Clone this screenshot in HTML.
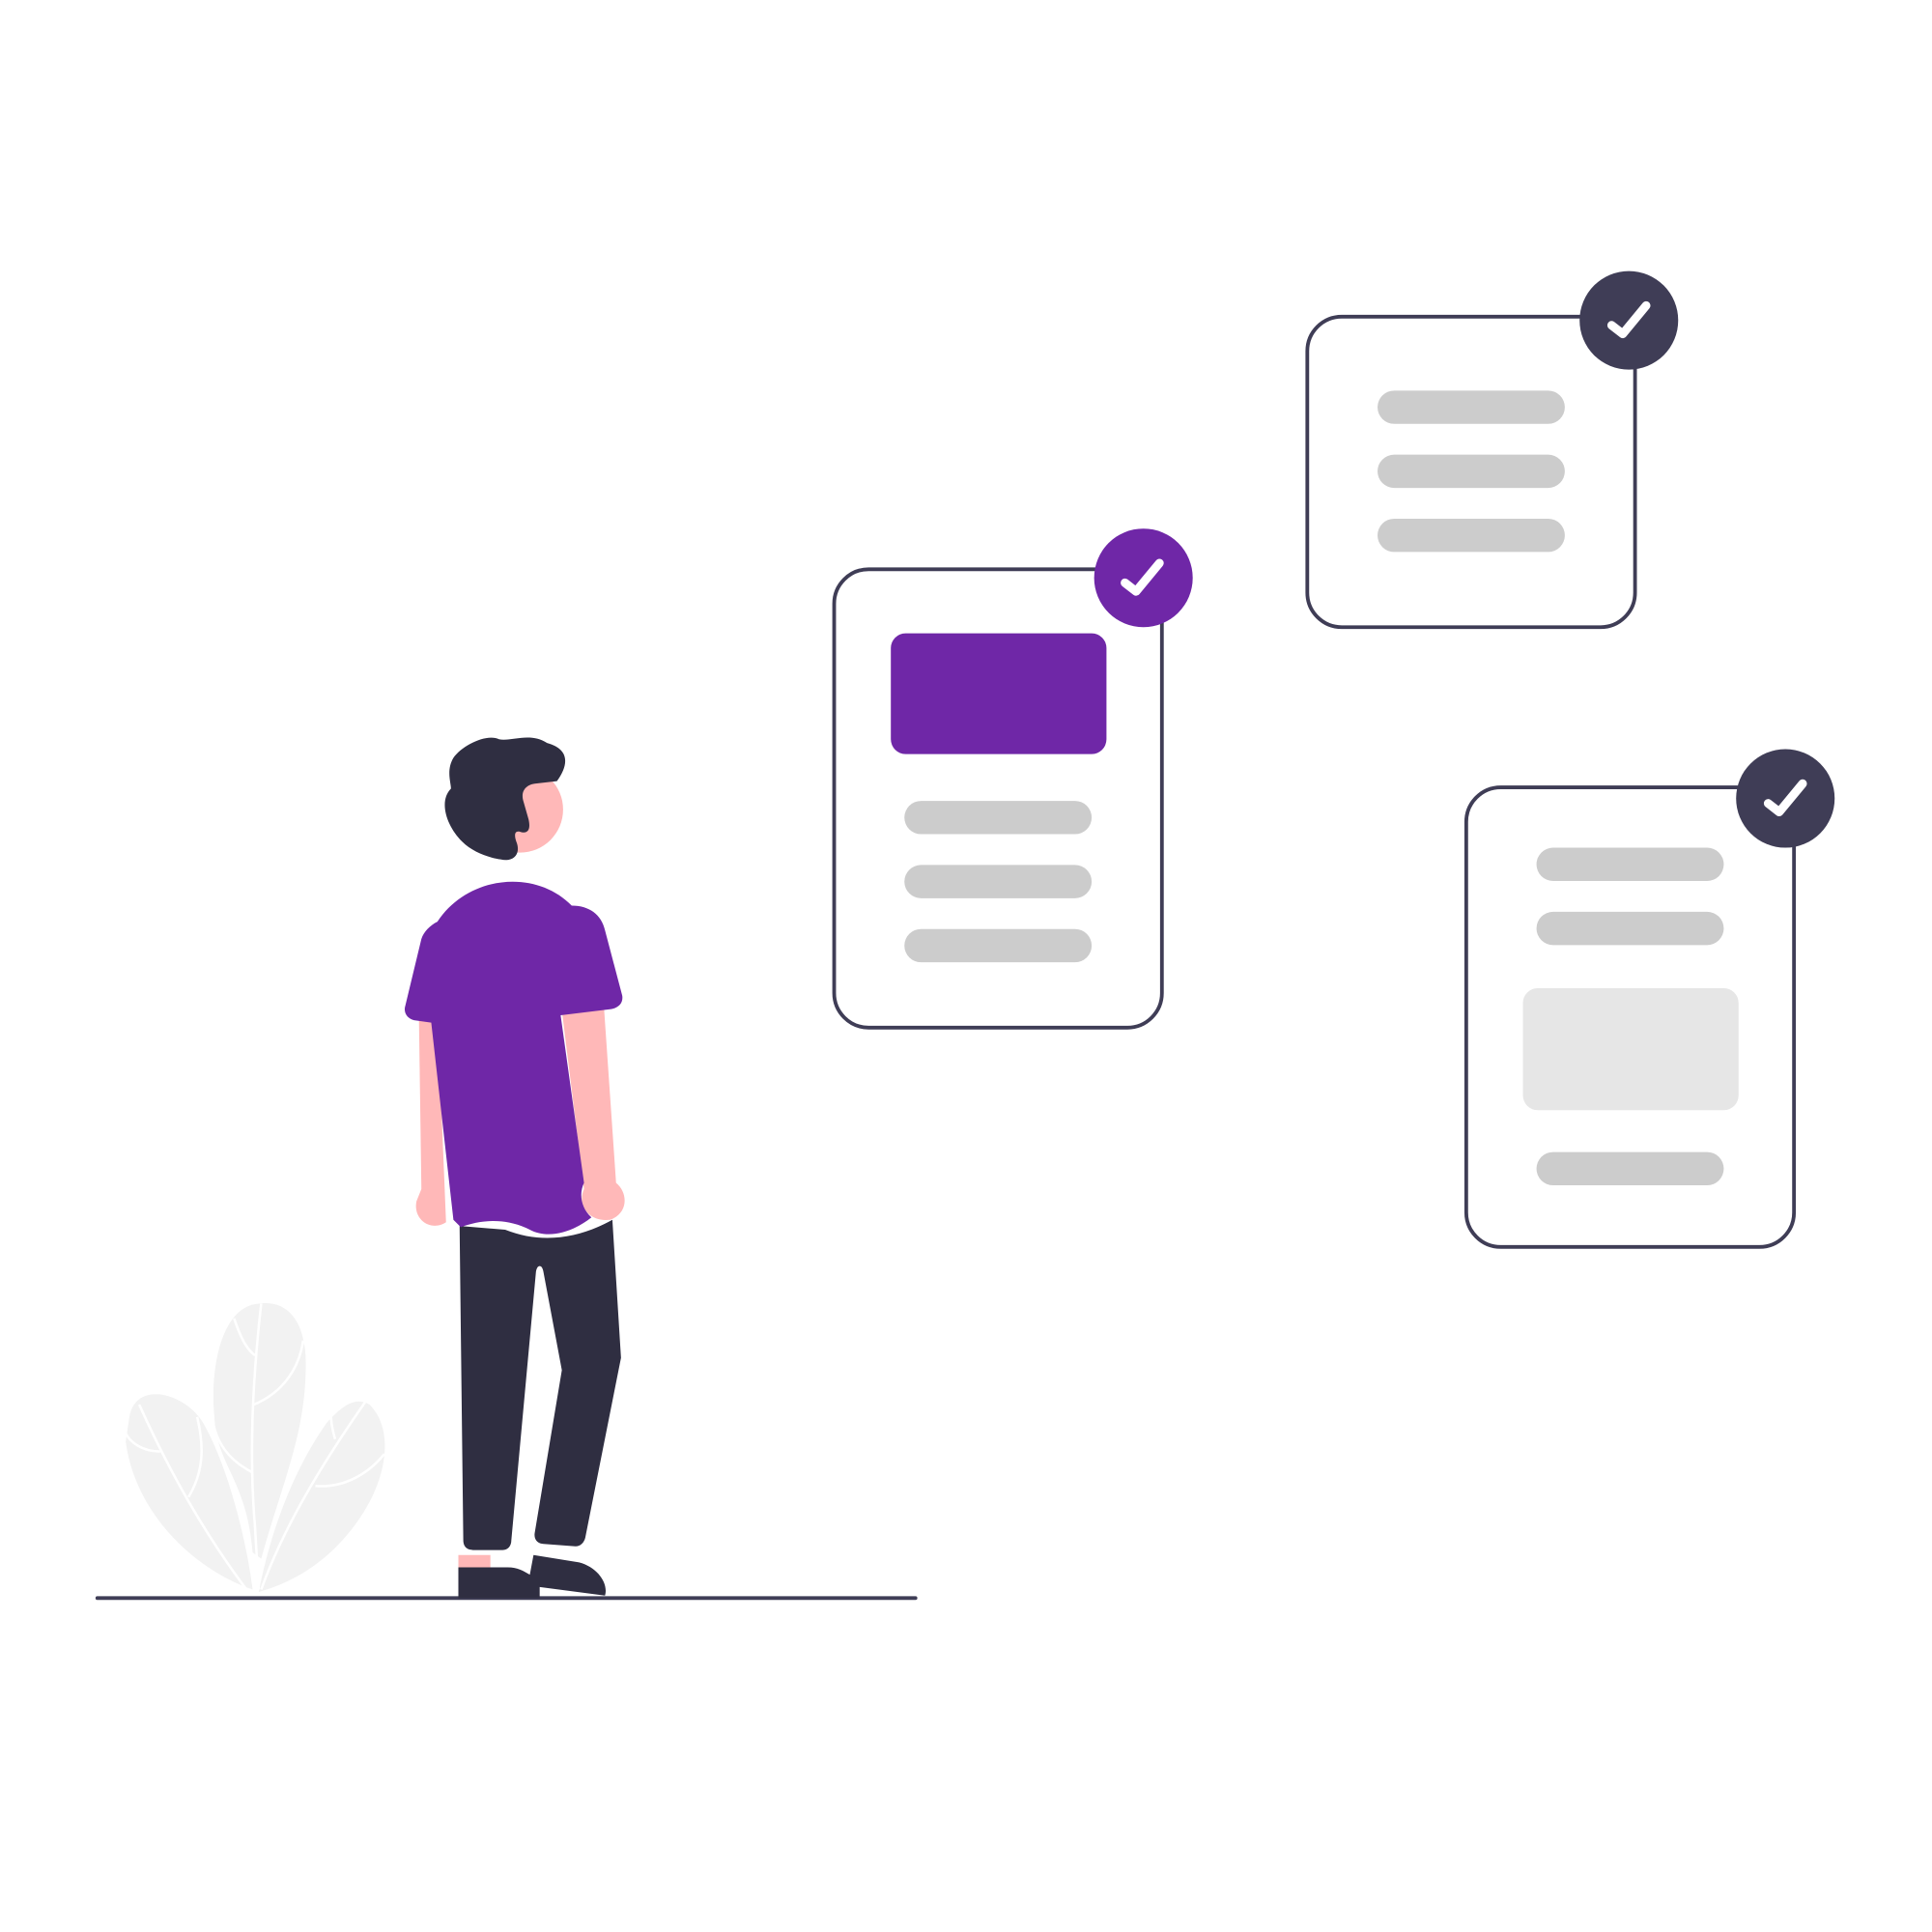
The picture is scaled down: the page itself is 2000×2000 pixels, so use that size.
<!DOCTYPE html>
<html><head><style>html,body{margin:0;padding:0;background:#fff}svg{display:block}</style></head><body>
<svg width="2000" height="2000" viewBox="0 0 1568 1568" xmlns="http://www.w3.org/2000/svg">
<!-- plant -->
<g fill="#f2f2f2">
<path d="M210 1058 C180 1060 170 1110 174 1150 C176 1190 200 1200 205 1260 L212 1265 C230 1200 250 1160 248 1100 C246 1070 232 1055 210 1058Z"/>
<path d="M105 1150 C110 1120 150 1130 165 1155 C185 1190 200 1250 205 1290 C160 1275 110 1230 102 1170Z"/>
<path d="M300 1140 C320 1160 315 1200 290 1235 C265 1270 235 1285 210 1292 C220 1240 240 1190 265 1155 C280 1138 290 1134 300 1140Z"/>
</g>
<g stroke="#fff" stroke-width="2" fill="none">
<path d="M212 1058 C205 1120 202 1180 207 1240 L210 1290"/>
<path d="M113 1140 C140 1200 170 1250 200 1290"/>
<path d="M297 1137 C260 1190 230 1240 212 1290"/>
<path d="M206 1140 C230 1130 243 1110 246 1088"/><path d="M190 1070 C195 1085 200 1095 207 1100"/>
<path d="M130 1178 C115 1178 105 1170 102 1163"/><path d="M153 1215 C165 1195 166 1175 160 1150"/>
<path d="M256 1206 C280 1208 300 1195 312 1180"/><path d="M272 1168 C268 1155 268 1145 270 1138"/>
<path d="M205 1195 C185 1185 175 1170 172 1150"/>
</g>
<!-- ground -->
<line x1="79" y1="1297" x2="743" y2="1297" stroke="#3f3d56" stroke-width="3" stroke-linecap="round"/>
<!-- person -->
<path d="M340 825 L342 965 L338 975 C335 990 350 1000 362 992 L355 820Z" fill="#ffb8b8"/>
<path d="M490 815 L500 960 C510 968 510 985 495 990 C478 992 468 978 474 965 L456 820Z" fill="#ffb8b8"/>
<path d="M373 995 L376 1250 C376 1256 380 1258 384 1258 L408 1258 C412 1258 415 1255 415 1250 L435 1032 C436 1026 440 1026 441 1032 L456 1112 L434 1244 C433 1250 437 1253 441 1253 L467 1255 C471 1255 474 1252 475 1248 L504 1102 L497 990 C470 1005 440 1010 410 998Z" fill="#2f2e41"/>
<path d="M372 1272 L412 1272 C420 1272 425 1275 430 1278 L433 1262 L470 1268 C485 1272 494 1285 491 1295 L438 1288 L438 1297 L372 1297Z" fill="#2f2e41"/>
<path d="M372 1262 L372 1272 L398 1272 L398 1262Z" fill="#ffb8b8"/>
<path d="M355 748 C380 710 435 705 464 735 C478 735 488 742 491 755 L505 808 C506 814 502 818 496 819 L455 824 L474 960 C470 968 471 980 480 988 C465 1000 445 1006 430 998 C410 988 390 990 374 996 L368 990 L350 830 L336 828 C331 827 327 822 329 816 L342 762 C344 756 349 751 355 748Z" fill="#6f27a7"/>
<circle cx="422" cy="657" r="35" fill="#ffb8b8"/>
<path d="M452 634 C462 620 462 608 444 603 C430 594 415 602 405 600 C395 595 375 605 368 615 C362 625 366 635 366 640 C356 650 362 670 375 683 C385 693 400 697 410 698 C420 698 422 690 419 683 C417 677 418 674 422 675 C428 677 431 674 429 665 L425 651 C422 642 427 637 434 636Z" fill="#2f2e41"/>
<!-- card 1 -->
<rect x="677" y="462" width="266" height="372" rx="28" fill="#fff" stroke="#3f3d56" stroke-width="3"/>
<rect x="723" y="514" width="175" height="98" rx="12" fill="#6f27a7"/>
<rect x="734" y="650" width="152" height="27" rx="13.5" fill="#ccc"/>
<rect x="734" y="702" width="152" height="27" rx="13.5" fill="#ccc"/>
<rect x="734" y="754" width="152" height="27" rx="13.5" fill="#ccc"/>
<circle cx="928" cy="469" r="40" fill="#6f27a7"/>
<path d="M913 473 L922 480 L941 457" stroke="#fff" stroke-width="7" fill="none" stroke-linecap="round" stroke-linejoin="round"/>
<!-- card 2 -->
<rect x="1061" y="257" width="266" height="252" rx="28" fill="#fff" stroke="#3f3d56" stroke-width="3"/>
<rect x="1118" y="317" width="152" height="27" rx="13.5" fill="#ccc"/>
<rect x="1118" y="369" width="152" height="27" rx="13.5" fill="#ccc"/>
<rect x="1118" y="421" width="152" height="27" rx="13.5" fill="#ccc"/>
<circle cx="1322" cy="260" r="40" fill="#3f3d56"/>
<path d="M1308 264 L1317 271 L1336 248" stroke="#fff" stroke-width="7" fill="none" stroke-linecap="round" stroke-linejoin="round"/>
<!-- card 3 -->
<rect x="1190" y="639" width="266" height="373" rx="28" fill="#fff" stroke="#3f3d56" stroke-width="3"/>
<rect x="1247" y="688" width="152" height="27" rx="13.5" fill="#ccc"/>
<rect x="1247" y="740" width="152" height="27" rx="13.5" fill="#ccc"/>
<rect x="1236" y="802" width="175" height="99" rx="12" fill="#e6e6e6"/>
<rect x="1247" y="935" width="152" height="27" rx="13.5" fill="#ccc"/>
<circle cx="1449" cy="648" r="40" fill="#3f3d56"/>
<path d="M1435 652 L1444 659 L1463 636" stroke="#fff" stroke-width="7" fill="none" stroke-linecap="round" stroke-linejoin="round"/>
</svg>
</body></html>
